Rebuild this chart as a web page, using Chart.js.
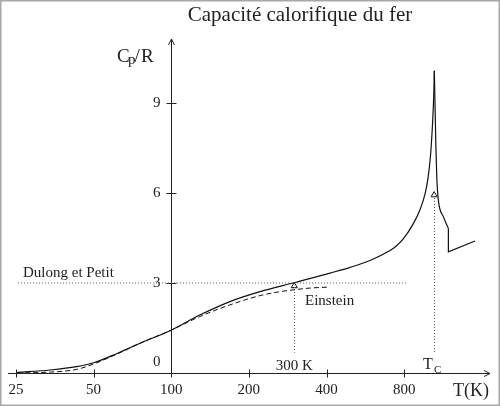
<!DOCTYPE html>
<html>
<head>
<meta charset="utf-8">
<script src="https://cdn.jsdelivr.net/npm/chart.js@4.4.1/dist/chart.umd.min.js"></script>
<style>
  html, body { margin: 0; padding: 0; background: #fff; }
  #wrap { width: 500px; height: 406px; position: relative; }
</style>
</head>
<body>
<div id="wrap"><canvas id="c" width="500" height="406"></canvas></div>
<script>
// ---- data ----
const xTickLabels = [25, 50, 100, 200, 400, 800];
const yTickLabels = [0, 3, 6, 9];

// iron, below the Curie point (rising branch)
const feT  = [25.3, 34, 43, 50, 62, 78, 99, 129, 169, 221, 297, 316, 413, 494, 590, 705, 738, 792, 866, 922, 964, 990, 1012, 1031, 1042, 1047];
const feCp = [0.02, 0.1, 0.21, 0.34, 0.66, 1.04, 1.41, 1.93, 2.38, 2.71, 3.0, 3.06, 3.33, 3.52, 3.75, 4.08, 4.2, 4.46, 4.96, 5.45, 5.97, 6.5, 7.25, 8.35, 9.3, 10.07];
// iron, above the Curie point
const feRightT  = [1047, 1054, 1061, 1070, 1085, 1135, 1187];
const feRightCp = [10.07, 8.9, 7.66, 6.55, 5.77, 5.21, 4.82];
// alpha -> gamma jump and gamma phase
const gammaT  = [1187, 1187, 1505];
const gammaCp = [4.82, 4.04, 4.4];
// Einstein model
const einT  = [25.3, 34, 43, 50, 62, 78, 100, 129, 169, 221, 260, 297, 345, 402];
const einCp = [0.0, 0.03, 0.12, 0.3, 0.64, 1.04, 1.43, 1.88, 2.27, 2.58, 2.7, 2.77, 2.83, 2.86];
// Dulong et Petit level
const dulongT = [25.5, 821];
const dulongCp = [3, 3];
// markers (300 K and T_C)
const markT  = [300, 1045];
const markCp = [2.9, 5.93];
const markDropTo = 0.68;

const zip = (a, b) => a.map((v, i) => ({ x: v, y: b[i] }));
const SERIF = "'Liberation Serif', 'DejaVu Serif', serif";

const decor = {
  id: 'decor',
  beforeDatasetsDraw(chart) {
    const ctx = chart.ctx, xs = chart.scales.x, ys = chart.scales.y, ca = chart.chartArea;
    const X = v => xs.getPixelForValue(v), Y = v => ys.getPixelForValue(v);
    ctx.save();
    // frame
    ctx.strokeStyle = '#a8a8a8'; ctx.lineWidth = 1.5;
    ctx.strokeRect(0.75, 0.75, chart.width - 1.5, chart.height - 1.5);
    // dotted drop lines from markers
    ctx.strokeStyle = '#555'; ctx.lineWidth = 1; ctx.setLineDash([1, 2]);
    markT.forEach((t, i) => {
      ctx.beginPath();
      ctx.moveTo(Math.round(X(t)) + 0.5, Y(markCp[i]) + 3);
      ctx.lineTo(Math.round(X(t)) + 0.5, Y(markDropTo));
      ctx.stroke();
    });
    ctx.setLineDash([]);
    // axes
    ctx.strokeStyle = '#222'; ctx.lineWidth = 1;
    const y0 = Math.round(Y(0)) + 0.5, x0 = Math.round(X(100)) + 0.5;
    ctx.beginPath(); ctx.moveTo(ca.left, y0); ctx.lineTo(ca.right, y0); ctx.stroke();
    ctx.beginPath(); ctx.moveTo(ca.right - 6, y0 - 3); ctx.lineTo(ca.right, y0); ctx.lineTo(ca.right - 6, y0 + 3); ctx.stroke();
    ctx.beginPath(); ctx.moveTo(x0, y0); ctx.lineTo(x0, ca.top); ctx.stroke();
    ctx.beginPath(); ctx.moveTo(x0 - 3, ca.top + 6); ctx.lineTo(x0, ca.top); ctx.lineTo(x0 + 3, ca.top + 6); ctx.stroke();
    // x ticks & labels
    ctx.fillStyle = '#222';
    ctx.font = '15px ' + SERIF; ctx.textAlign = 'center'; ctx.textBaseline = 'middle';
    xTickLabels.forEach(t => {
      const px = Math.round(X(t)) + 0.5;
      ctx.beginPath(); ctx.moveTo(px, y0 - 4); ctx.lineTo(px, y0 + 4); ctx.stroke();
      ctx.fillText(String(t), X(t), y0 + 17);
    });
    // y ticks & labels
    ctx.textAlign = 'right';
    yTickLabels.forEach(v => {
      const py = Math.round(Y(v)) + 0.5;
      if (v !== 0) {
        ctx.beginPath(); ctx.moveTo(x0 - 5, py); ctx.lineTo(x0 + 5, py); ctx.stroke();
        ctx.fillText(String(v), x0 - 11, py);
      } else {
        ctx.fillText(String(v), x0 - 11, py - 11);
      }
    });
    // title
    ctx.textAlign = 'center'; ctx.textBaseline = 'alphabetic';
    ctx.font = '21px ' + SERIF;
    ctx.fillText('Capacité calorifique du fer', 300, 21);
    // axis titles
    ctx.textAlign = 'left';
    ctx.font = '19px ' + SERIF;
    ctx.fillText('C', 117, 62);
    ctx.font = '15px ' + SERIF; ctx.fillText('p', 128, 64);
    ctx.font = '19px ' + SERIF; ctx.fillText('/', 134.5, 62);
    ctx.fillText('R', 141, 62);
    ctx.font = '18px ' + SERIF;
    ctx.fillText('T(K)', 453, 396);
    // annotations
    ctx.font = '15px ' + SERIF;
    ctx.fillText('Dulong et Petit', 23, 277);
    ctx.fillText('Einstein', 305, 305);
    ctx.textAlign = 'center';
    ctx.fillText('300 K', X(300), 370);
    ctx.textAlign = 'left';
    ctx.font = '16px ' + SERIF;
    ctx.fillText('T', 423, 369);
    ctx.font = '11px ' + SERIF;
    ctx.fillText('C', 434, 373);
    ctx.restore();
  }
};

new Chart(document.getElementById('c'), {
  type: 'scatter',
  data: {
    datasets: [
      { data: zip(dulongT, dulongCp), showLine: true, borderColor: '#555', borderWidth: 1, borderDash: [1, 2], pointRadius: 0, tension: 0 },
      { data: zip(einT, einCp), showLine: true, borderColor: '#111', borderWidth: 1, borderDash: [5, 3], pointRadius: 0, cubicInterpolationMode: 'monotone' },
      { data: zip(feT, feCp), showLine: true, borderColor: '#111', borderWidth: 1.2, pointRadius: 0, cubicInterpolationMode: 'monotone' },
      { data: zip(feRightT, feRightCp), showLine: true, borderColor: '#111', borderWidth: 1.2, pointRadius: 0, cubicInterpolationMode: 'monotone' },
      { data: zip(gammaT, gammaCp), showLine: true, borderColor: '#111', borderWidth: 1.2, pointRadius: 0, tension: 0 },
      { data: zip(markT, markCp), showLine: false, pointStyle: 'triangle', pointRadius: 3.5, borderColor: '#111', borderWidth: 1, backgroundColor: '#fff' }
    ]
  },
  options: {
    responsive: false,
    animation: false,
    events: [],
    layout: { padding: { left: 8, right: 10, top: 39, bottom: 33 } },
    plugins: { legend: { display: false }, tooltip: { enabled: false }, title: { display: false } },
    scales: {
      x: { type: 'logarithmic', min: 23.3, max: 1721, display: false },
      y: { type: 'linear', min: 0, max: 11.13, display: false }
    }
  },
  plugins: [decor]
});
</script>
</body>
</html>
